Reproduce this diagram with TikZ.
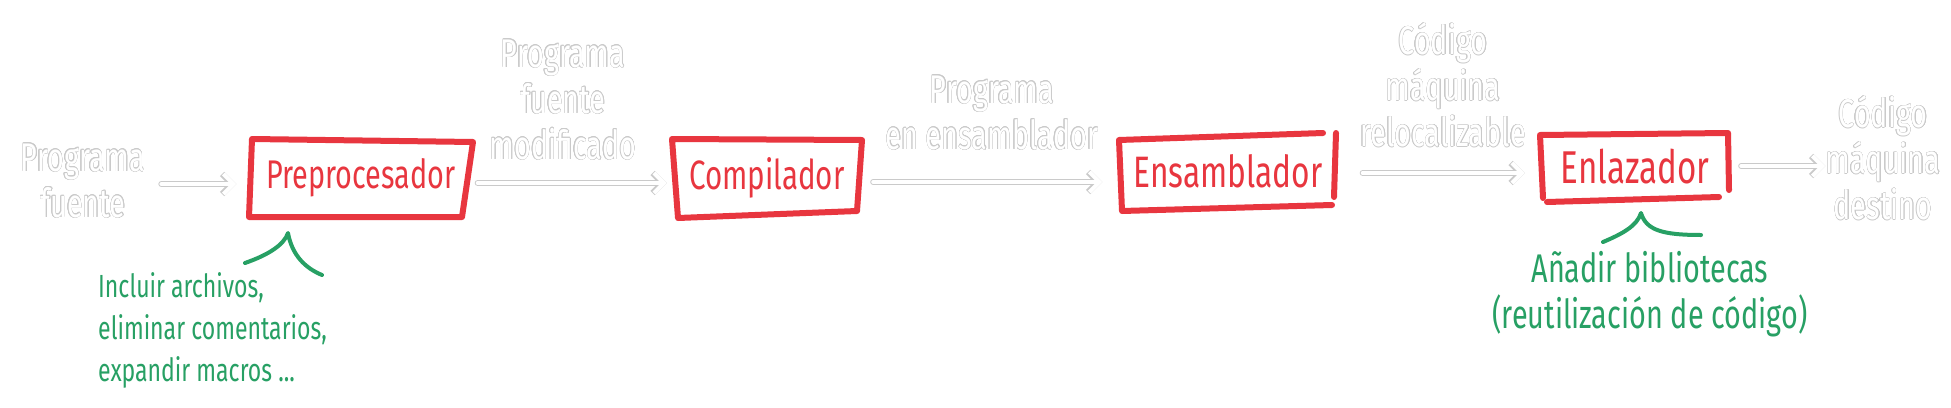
\documentclass[tikz,border=0pt]{standalone}
\usepackage{fontspec}
\newfontfamily\hand[FakeStretch=0.72]{Fira Sans}
\usepackage{contour}
\contourlength{0.5pt}
\usetikzlibrary{arrows.meta}
\definecolor{hred}{HTML}{E8363F}
\definecolor{hgreen}{HTML}{27A064}
\definecolor{hout}{HTML}{CACACA}
\newcommand{\wl}[1]{\contour{hout}{#1}}
\begin{document}
\begin{tikzpicture}[x=1pt,y=-1pt,
  box/.style={text=hred, inner sep=0pt},
  redline/.style={draw=hred, line width=6pt, line cap=round, line join=round},
  lbl/.style={text=white, align=center, inner sep=0pt, font=\hand\fontsize{40}{46}\selectfont},
  note/.style={text=hgreen, inner sep=0pt},
  arrO/.style={draw=hout, line width=6pt, line cap=round, -{Straight Barb[length=10pt,width=20pt]}},
  arrI/.style={draw=white, line width=4pt, line cap=round, -{Straight Barb[length=10pt,width=20pt]}},
  brace/.style={draw=hgreen, line width=4pt, line cap=round, line join=round}]
\fill[white] (0,0) rectangle (1951,407);
\useasboundingbox (0,0) rectangle (1951,407);

% processing stages
\node[box, minimum width=217pt, minimum height=75pt, font=\hand\fontsize{40}{40}\selectfont] (pre) at (361,178) {Preprocesador};
\node[box, minimum width=184pt, minimum height=74pt, font=\hand\fontsize{41}{41}\selectfont] (comp) at (767,178) {Compilador};
\node[box, minimum width=213pt, minimum height=76pt, font=\hand\fontsize{44}{44}\selectfont] (ens) at (1228,171) {Ensamblador};
\node[box, minimum width=186pt, minimum height=64pt, font=\hand\fontsize{46}{46}\selectfont] (enl) at (1635,167) {Enlazador};

% hand-drawn frames
\draw[redline] (252,139) -- (473,142) -- (462,217) -- (249,217) -- cycle;
\draw[redline] (672,139) -- (862,140) -- (857,211) -- (678,218) -- cycle;
\draw[redline] (1323,133) -- (1119,140) -- (1122,211) -- (1332,205);
\draw[redline] (1336,133) -- (1334,197);
\draw[redline] (1543,198) -- (1540,135) -- (1728,133) -- (1729,190);
\draw[redline] (1547,202) -- (1719,197);

% intermediate products
\node[lbl] (src) at (83,181) {\wl{Programa}\\\wl{fuente}};
\node[lbl] (mod) at (563,100) {\wl{Programa}\\\wl{fuente}\\\wl{modificado}};
\node[lbl] (asm) at (992,113) {\wl{Programa}\\\wl{en ensamblador}};
\node[lbl] (reloc) at (1443,85) {\wl{Código}\\\wl{máquina}\\\wl{relocalizable}};
\node[lbl] (dest) at (1883,158) {\wl{Código}\\\wl{máquina}\\\wl{destino}};

% arrows (outline, then white core)
\draw[arrO, shorten <=16pt, shorten >=16pt] ([yshift=-3pt]src.east) -- ([yshift=-3pt]src.east -| pre.west);
\draw[arrI, shorten <=16pt, shorten >=16pt] ([yshift=-3pt]src.east) -- ([yshift=-3pt]src.east -| pre.west);
\draw[arrO, shorten <=8pt, shorten >=8pt] ([yshift=-5pt]pre.east) -- ([yshift=-5pt]pre.east -| comp.west);
\draw[arrI, shorten <=8pt, shorten >=8pt] ([yshift=-5pt]pre.east) -- ([yshift=-5pt]pre.east -| comp.west);
\draw[arrO, shorten <=14pt, shorten >=19pt] ([yshift=-4pt]comp.east) -- ([yshift=-4pt]comp.east -| ens.west);
\draw[arrI, shorten <=14pt, shorten >=19pt] ([yshift=-4pt]comp.east) -- ([yshift=-4pt]comp.east -| ens.west);
\draw[arrO, shorten <=28pt, shorten >=17pt] ([yshift=-2pt]ens.east) -- ([yshift=-2pt]ens.east -| enl.west);
\draw[arrI, shorten <=28pt, shorten >=17pt] ([yshift=-2pt]ens.east) -- ([yshift=-2pt]ens.east -| enl.west);
\draw[arrO, shorten <=13pt, shorten >=0pt] ([yshift=1pt]enl.east) -- ([yshift=1pt]enl.east -| dest.west);
\draw[arrI, shorten <=13pt, shorten >=0pt] ([yshift=1pt]enl.east) -- ([yshift=1pt]enl.east -| dest.west);

% notes
\node[note, anchor=west, align=left, font=\hand\fontsize{32}{42}\selectfont] (n1) at (98,330) {Incluir archivos,\\eliminar comentarios,\\expandir macros ...};
\node[note, align=center, font=\hand\fontsize{40}{46}\selectfont] (n2) at (1650,294) {Añadir bibliotecas\\(reutilización de código)};
\draw[brace] (245,263) .. controls (268,255) and (284,245) .. (288,233) .. controls (292,255) and (305,268) .. (322,275);
\draw[brace] (1603,242) .. controls (1622,234) and (1637,226) .. (1641,213) .. controls (1646,230) and (1662,235) .. (1701,235);
\end{tikzpicture}
\end{document}
